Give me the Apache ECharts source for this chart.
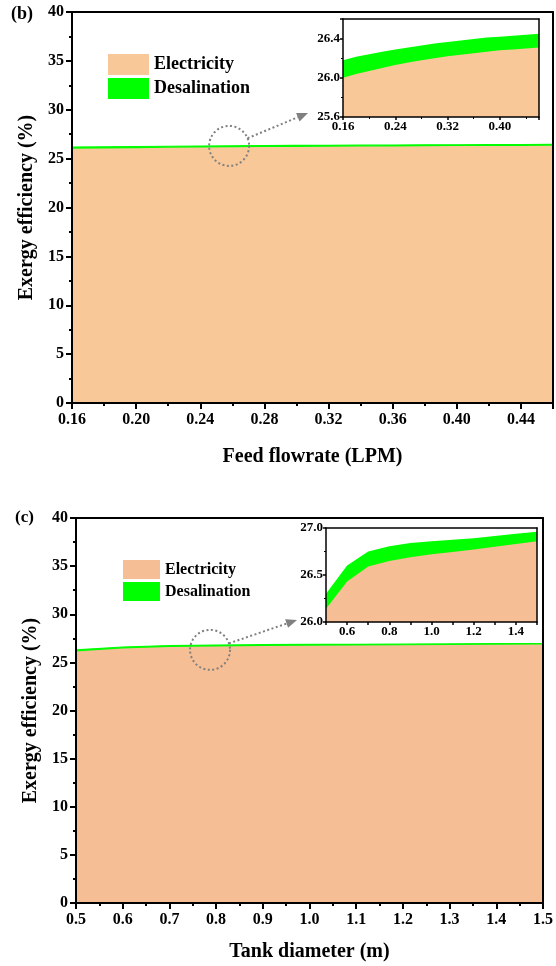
<!DOCTYPE html>
<html><head><meta charset="utf-8">
<script src="https://cdn.jsdelivr.net/npm/echarts@6/dist/echarts.min.js"></script>
<style>html,body{margin:0;padding:0;background:#fff}#c{width:556px;height:966px}</style>
</head><body><div id="c"></div>
<script>
// ---------- data ----------
const flowrate = [0.16,0.18,0.20,0.22,0.24,0.26,0.28,0.30,0.32,0.34,0.36,0.38,0.40,0.42,0.44,0.46];
const flowElectricity = [26.00,26.04,26.07,26.10,26.13,26.155,26.18,26.20,26.22,26.235,26.25,26.265,26.28,26.29,26.30,26.31];
const flowDesalination = [0.18,0.175,0.17,0.165,0.16,0.155,0.15,0.15,0.145,0.145,0.145,0.145,0.14,0.14,0.14,0.14];

const diameter = [0.5,0.6,0.7,0.8,0.9,1.0,1.1,1.2,1.3,1.4,1.5];
const diaElectricity = [26.14,26.43,26.59,26.65,26.69,26.72,26.745,26.77,26.80,26.83,26.86];
const diaDesalination = [0.16,0.17,0.16,0.155,0.15,0.14,0.13,0.12,0.115,0.11,0.10];

const seriesNames = ['Electricity','Desalination'];
const panelLabels = ['(b)','(c)'];
const xTitles = ['Feed flowrate (LPM)','Tank diameter (m)'];
const yTitle = 'Exergy efficiency (%)';

// ---------- style ----------
const FONT = "'Liberation Serif','Times New Roman',serif";
const peachTop = '#F9C899';
const peachBot = '#F6BE94';
const green = '#00FF00';

const chart = echarts.init(document.getElementById('c'), null, {renderer:'canvas'});

const grids = [
  {left:72, top:12, width:481, height:391},
  {left:343, top:19, width:196, height:98},
  {left:76, top:518, width:467, height:385},
  {left:326, top:528, width:211, height:94}
];

function lbl(size){return {fontFamily:FONT, fontWeight:'bold', fontSize:size, color:'#000'};}

function mainX(gi, min, max, interval, dec, name, gap, hideMax){
  return {type:'value', gridIndex:gi, min, max, interval, z:6,
    name, nameLocation:'middle', nameGap:gap, nameTextStyle:lbl(20),
    axisLine:{show:true, onZero:false, lineStyle:{color:'#000', width:2}},
    axisTick:{show:true, inside:false, length:6, lineStyle:{color:'#000', width:2}},
    minorTick:{show:true, splitNumber:2, length:3, lineStyle:{color:'#000', width:2}},
    splitLine:{show:false},
    axisLabel:Object.assign(lbl(16), {margin:9, showMaxLabel:!hideMax,
      formatter:v=>(hideMax && Math.abs(v-max)<1e-9)?'':v.toFixed(dec)})
  };
}
function mainY(gi, gap){
  return {type:'value', gridIndex:gi, min:0, max:40, interval:5, z:6,
    name:yTitle, nameLocation:'middle', nameGap:gap, nameTextStyle:lbl(20),
    axisLine:{show:true, lineStyle:{color:'#000', width:2}},
    axisTick:{show:true, inside:false, length:6, lineStyle:{color:'#000', width:2}},
    minorTick:{show:true, splitNumber:2, length:3, lineStyle:{color:'#000', width:2}},
    splitLine:{show:false},
    axisLabel:Object.assign(lbl(16), {margin:8})
  };
}
function insetAxis(type, gi, min, max, interval, fmt){
  return {type:'value', gridIndex:gi, min, max, interval, z:12,
    axisLine:{show:true, onZero:false, lineStyle:{color:'#000', width:1.5}},
    axisTick:{show:true, inside:false, length:3, lineStyle:{color:'#000', width:1.5}},
    minorTick:{show:true, splitNumber:2, length:2, lineStyle:{color:'#000', width:1}},
    splitLine:{show:false},
    axisLabel:Object.assign(lbl(13), {margin:3, formatter:fmt})
  };
}
function borderAxis(gi, pos, w){
  return {type:'value', gridIndex:gi, position:pos, z:12,
    axisLine:{show:true, onZero:false, lineStyle:{color:'#000', width:w}},
    axisTick:{show:false}, axisLabel:{show:false}, splitLine:{show:false}};
}

const xAxes = [
  mainX(0, 0.16, 0.46, 0.04, 2, xTitles[0], 44, true),
  insetAxis('x', 1, 0.16, 0.46, 0.08, v=>Math.abs(v-0.46)<1e-9?'':v.toFixed(2)),
  mainX(2, 0.5, 1.5, 0.1, 1, xTitles[1], 39, false),
  insetAxis('x', 3, 0.5, 1.5, 0.1, v=>{const k=Math.round(v*10); return (k%2===0)?v.toFixed(1):'';}),
  borderAxis(0,'top',2), borderAxis(1,'top',1.5), borderAxis(2,'top',2), borderAxis(3,'top',1.5)
];
xAxes[3].minorTick.show = false;
const yAxes = [
  mainY(0, 30),
  insetAxis('y', 1, 25.6, 26.6, 0.4, v=>v>26.55?'':v.toFixed(1)),
  mainY(2, 30),
  insetAxis('y', 3, 26.0, 27.0, 0.5, v=>v.toFixed(1)),
  borderAxis(0,'right',2), borderAxis(1,'right',1.5), borderAxis(2,'right',2), borderAxis(3,'right',1.5)
];

// Desalination band sits on top of electricity: draw the cumulative (electricity + desalination)
// in green underneath, then electricity in peach over it.
function pair(x, e, d, gi, peach, mainLine){
  const z = gi%2===1 ? 10 : 2;
  return [
    {name:seriesNames[1], type:'line', xAxisIndex:gi, yAxisIndex:gi, color:green,
     data:x.map((v,i)=>[v, e[i]+d[i]]), symbol:'none', showSymbol:false, z:z,
     lineStyle:{width:mainLine?1.2:0, color:green}, areaStyle:{color:green, opacity:1}, silent:true},
    {name:seriesNames[0], type:'line', xAxisIndex:gi, yAxisIndex:gi, color:peach,
     data:x.map((v,i)=>[v, e[i]]), symbol:'none', showSymbol:false, z:z+1,
     lineStyle:{width:0}, areaStyle:{color:peach, opacity:1}, silent:true}
  ];
}

const series = [].concat(
  pair(flowrate, flowElectricity, flowDesalination, 0, peachTop, true),
  pair(flowrate, flowElectricity, flowDesalination, 1, peachTop, false),
  pair(diameter, diaElectricity, diaDesalination, 2, peachBot, true),
  pair(diameter, diaElectricity, diaDesalination, 3, peachBot, false)
);

function legendFor(left, top, peach, size, w, h, gap){
  return {left, top, orient:'vertical', icon:'rect', itemWidth:w, itemHeight:h, itemGap:gap,
    selectedMode:false, textStyle:lbl(size),
    data:[{name:seriesNames[0], itemStyle:{color:peach}}, {name:seriesNames[1], itemStyle:{color:green}}]};
}

chart.setOption({
  animation:false,
  backgroundColor:'#fff',
  title:[
    {text:panelLabels[0], left:11, top:5, padding:0, textStyle:lbl(18)},
    {text:panelLabels[1], left:15, top:509, padding:0, textStyle:lbl(17)}
  ],
  legend:[legendFor(103, 49, peachTop, 18, 41, 21, 3), legendFor(118, 555, peachBot, 16, 37, 19, 3)],
  grid:grids.map((g,i)=>Object.assign({show:i%2===1, backgroundColor:'#fff', borderWidth:0, z:i%2===1?8:0}, g)),
  xAxis:xAxes,
  yAxis:yAxes,
  series
});

// ---------- annotations: dotted circle + arrow ----------
function annot(mainGi, insetGi, cx, cy, insetX, insetY, tipOff){
  const c = chart.convertToPixel({gridIndex:mainGi}, [cx, cy]);
  const corner = chart.convertToPixel({gridIndex:insetGi}, [insetX, insetY]);
  const r = 20;
  const tip = [corner[0]+tipOff[0], corner[1]+tipOff[1]];
  const dx = tip[0]-c[0], dy = tip[1]-c[1];
  const L = Math.hypot(dx, dy), ux = dx/L, uy = dy/L;
  const start = [c[0]+ux*r, c[1]+uy*r];
  const headLen = 11, headW = 4.5;
  const base = [tip[0]-ux*headLen, tip[1]-uy*headLen];
  const px = -uy, py = ux;
  return [
    {type:'circle', shape:{cx:c[0], cy:c[1], r}, z:20,
     style:{fill:null, stroke:'#808080', lineWidth:2, lineDash:[2,2.5]}},
    {type:'line', shape:{x1:start[0], y1:start[1], x2:base[0], y2:base[1]}, z:20,
     style:{stroke:'#808080', lineWidth:2, lineDash:[2,2.5]}},
    {type:'polygon', shape:{points:[tip, [base[0]+px*headW, base[1]+py*headW], [base[0]-px*headW, base[1]-py*headW]]}, z:20,
     style:{fill:'#808080'}}
  ];
}
chart.setOption({graphic:[].concat(
  annot(0, 1, 0.258, 26.3, 0.16, 25.6, [-35,-4]),
  annot(2, 3, 0.787, 26.3, 0.5, 26.0, [-29,-2])
)});
</script></body></html>
